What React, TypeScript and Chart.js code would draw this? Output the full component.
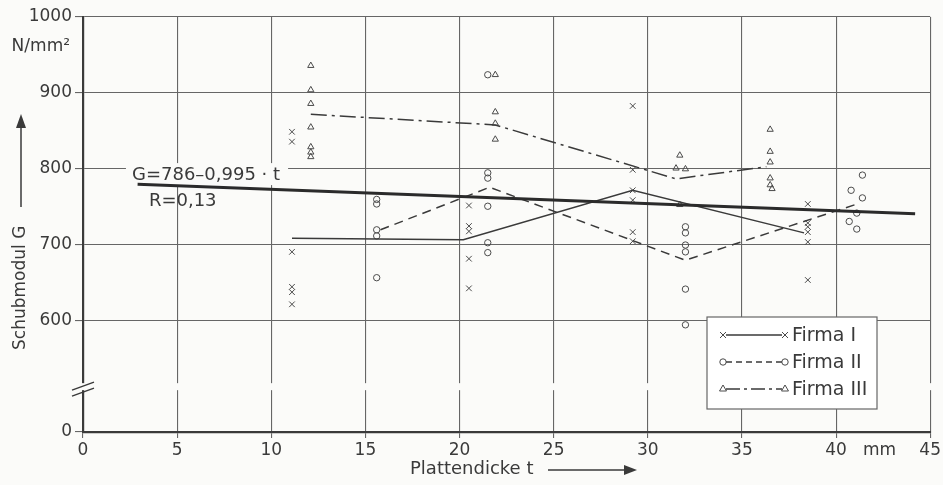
import React, { useEffect, useRef } from 'react';
import { Chart, registerables } from 'chart.js';

Chart.register(...registerables);

// ---- data ----
const xTickValues = [0, 5, 10, 15, 20, 25, 30, 35, 40, 45];
const yTickValues = [600, 700, 800, 900, 1000];
// broken y axis: the "0" tick is drawn at this position of the display scale
const ZERO_DRAWN_AT = 454;
const BREAK_AT = 513;

const firma1X = [11.1, 11.1, 11.1, 11.1, 11.1, 11.1, 20.5, 20.5, 20.5, 20.5, 20.5, 29.2, 29.2, 29.2, 29.2, 29.2, 29.2, 38.5, 38.5, 38.5, 38.5, 38.5, 38.5];
const firma1Y = [849, 836, 691, 645, 638, 622, 752, 725, 718, 682, 643, 883, 799, 772, 759, 717, 705, 754, 729, 724, 717, 704, 654];

const firma2X = [15.6, 15.6, 15.6, 15.6, 15.6, 21.5, 21.5, 21.5, 21.5, 21.5, 21.5, 32.0, 32.0, 32.0, 32.0, 32.0, 32.0, 41.4, 40.8, 41.4, 41.1, 40.7, 41.1];
const firma2Y = [760, 754, 720, 712, 657, 924, 795, 788, 751, 703, 690, 724, 716, 700, 691, 642, 595, 792, 772, 762, 742, 731, 721];

const firma3X = [12.1, 12.1, 12.1, 12.1, 12.1, 12.1, 12.1, 21.9, 21.9, 21.9, 21.9, 31.7, 31.5, 32.0, 31.7, 36.5, 36.5, 36.5, 36.5, 36.5, 36.6];
const firma3Y = [936, 904, 886, 855, 829, 822, 816, 924, 875, 860, 839, 818, 801, 800, 753, 852, 823, 809, 788, 779, 774];

const line1X = [11.1, 20.2, 29.2, 38.3];
const line1Y = [709, 707, 772, 716];
const line2X = [15.8, 21.6, 32.0, 41.0];
const line2Y = [720, 776, 680, 753];
const line3X = [12.1, 21.9, 31.5, 36.3];
const line3Y = [872, 858, 787, 803];
const regressionX = [2.9, 44.2];
const regressionY = [780, 741];

const seriesNames = ['Firma I', 'Firma II', 'Firma III'];
const equationText = 'G=786\u20130,995 \u00b7 t';
const rText = 'R=0,13';

const FONT = '"DejaVu Sans", sans-serif';
const INK = '#3a3a3a';
const MARK = '#4a4a4a';
const GRID = '#666666';
const PAPER = '#fbfbf9';

const pts = (xs: number[], ys: number[]) => xs.map((x, i) => ({ x, y: ys[i] }));

function drawMarker(ctx: CanvasRenderingContext2D, style: string, x: number, y: number, r: number) {
  ctx.save();
  ctx.setLineDash([]);
  ctx.strokeStyle = MARK;
  ctx.lineWidth = 1;
  ctx.beginPath();
  if (style === 'crossRot') {
    const d = r * 0.75;
    ctx.moveTo(x - d, y - d);
    ctx.lineTo(x + d, y + d);
    ctx.moveTo(x - d, y + d);
    ctx.lineTo(x + d, y - d);
  } else if (style === 'circle') {
    ctx.arc(x, y, r * 0.8, 0, Math.PI * 2);
  } else {
    ctx.moveTo(x, y - r);
    ctx.lineTo(x + r * 0.87, y + r * 0.5);
    ctx.lineTo(x - r * 0.87, y + r * 0.5);
    ctx.closePath();
  }
  ctx.stroke();
  ctx.restore();
}

export default function App() {
  const ref = useRef<HTMLCanvasElement | null>(null);

  useEffect(() => {
    if (!ref.current) return;

    const deco = {
      id: 'deco',
      beforeDatasetsDraw(chart: any) {
        const ctx = chart.ctx;
        const { left, right } = chart.chartArea;
        const ys = chart.scales.y;
        const xs = chart.scales.x;
        ctx.save();
        // axis break gap
        const by = ys.getPixelForValue(BREAK_AT);
        ctx.fillStyle = PAPER;
        ctx.fillRect(left - 12, by - 4, right - left + 14, 7);
        ctx.strokeStyle = INK;
        ctx.lineWidth = 1.4;
        ctx.beginPath();
        ctx.moveTo(left - 11, by + 3);
        ctx.lineTo(left + 11, by - 5);
        ctx.moveTo(left - 11, by + 9);
        ctx.lineTo(left + 11, by + 1);
        ctx.stroke();
        // equation text with paper background
        const ex = xs.getPixelForValue(2.6);
        const ey = ys.getPixelForValue(792);
        ctx.font = '18px ' + FONT;
        const w = ctx.measureText(equationText).width;
        ctx.fillStyle = PAPER;
        ctx.fillRect(ex - 6, ey - 12, w + 14, 22);
        ctx.fillStyle = INK;
        ctx.textAlign = 'left';
        ctx.textBaseline = 'middle';
        ctx.fillText(equationText, ex, ey);
        ctx.fillText(rText, xs.getPixelForValue(3.5), ys.getPixelForValue(757));
        ctx.restore();
      },
      afterDraw(chart: any) {
        const ctx = chart.ctx;
        const xs = chart.scales.x;
        ctx.save();
        ctx.fillStyle = INK;
        ctx.strokeStyle = INK;
        ctx.textBaseline = 'middle';
        // unit on y axis
        ctx.font = '17px ' + FONT;
        ctx.textAlign = 'right';
        ctx.fillText('N/mm\u00b2', 70, 47);
        // mm after 40
        ctx.textAlign = 'left';
        ctx.fillText('mm', xs.getPixelForValue(40) + 27, 451);
        // x title
        ctx.font = '18px ' + FONT;
        ctx.fillText('Plattendicke t', 410, 469);
        ctx.lineWidth = 1.5;
        ctx.beginPath();
        ctx.moveTo(548, 470);
        ctx.lineTo(628, 470);
        ctx.stroke();
        ctx.beginPath();
        ctx.moveTo(637, 470);
        ctx.lineTo(624, 465);
        ctx.lineTo(624, 475);
        ctx.closePath();
        ctx.fill();
        // y title
        ctx.save();
        ctx.translate(21, 350);
        ctx.rotate(-Math.PI / 2);
        ctx.font = '17px ' + FONT;
        ctx.textAlign = 'left';
        ctx.fillText('Schubmodul G', 0, 0);
        ctx.beginPath();
        ctx.moveTo(143, 0);
        ctx.lineTo(226, 0);
        ctx.stroke();
        ctx.beginPath();
        ctx.moveTo(236, 0);
        ctx.lineTo(222, -5);
        ctx.lineTo(222, 5);
        ctx.closePath();
        ctx.fill();
        ctx.restore();
        // legend
        const bx = 707, byy = 317, bw = 170, bh = 92;
        ctx.fillStyle = '#ffffff';
        ctx.fillRect(bx, byy, bw, bh);
        ctx.strokeStyle = GRID;
        ctx.lineWidth = 1.2;
        ctx.strokeRect(bx, byy, bw, bh);
        const rows = [335, 362, 389];
        const dashes = [[], [6, 4], [14, 4, 3, 4]];
        const styles = ['crossRot', 'circle', 'triangle'];
        rows.forEach((ry, i) => {
          ctx.strokeStyle = INK;
          ctx.lineWidth = 1.3;
          ctx.setLineDash(dashes[i]);
          ctx.beginPath();
          ctx.moveTo(726, ry);
          ctx.lineTo(782, ry);
          ctx.stroke();
          ctx.setLineDash([]);
          drawMarker(ctx, styles[i], 723, ry, 4);
          drawMarker(ctx, styles[i], 785, ry, 4);
          ctx.fillStyle = INK;
          ctx.font = '19px ' + FONT;
          ctx.textAlign = 'left';
          ctx.fillText(seriesNames[i], 792, ry + 1);
        });
        ctx.restore();
      },
    };

    const markerBase = {
      type: 'line' as const,
      showLine: false,
      pointRadius: 3.6,
      pointBorderWidth: 1,
      pointBorderColor: MARK,
      pointBackgroundColor: 'rgba(255,255,255,0)',
      borderColor: MARK,
    };
    const lineBase = {
      type: 'line' as const,
      pointRadius: 0,
      borderColor: INK,
      borderWidth: 1.5,
      fill: false,
      tension: 0,
    };

    const chart = new Chart(ref.current, {
      type: 'line',
      data: {
        datasets: [
          { ...lineBase, label: 'regression', data: pts(regressionX, regressionY), borderWidth: 3, borderColor: '#2b2b2b' },
          { ...lineBase, label: seriesNames[0] + ' line', data: pts(line1X, line1Y) },
          { ...lineBase, label: seriesNames[1] + ' line', data: pts(line2X, line2Y), borderDash: [9, 6] },
          { ...lineBase, label: seriesNames[2] + ' line', data: pts(line3X, line3Y), borderDash: [16, 5, 3, 5] },
          { ...markerBase, label: seriesNames[0], data: pts(firma1X, firma1Y), pointStyle: 'crossRot', pointRadius: 4 },
          { ...markerBase, label: seriesNames[1], data: pts(firma2X, firma2Y), pointStyle: 'circle', pointRadius: 3.2 },
          { ...markerBase, label: seriesNames[2], data: pts(firma3X, firma3Y), pointStyle: 'triangle' },
        ] as any,
      },
      options: {
        responsive: false,
        animation: false,
        layout: { padding: { top: 17, right: 11, left: 0, bottom: 0 } },
        plugins: { legend: { display: false }, tooltip: { enabled: false } },
        scales: {
          x: {
            type: 'linear',
            min: 0,
            max: 45,
            afterBuildTicks: (s: any) => { s.ticks = xTickValues.map((v) => ({ value: v })); },
            afterFit: (s: any) => { s.height = 53; },
            ticks: {
              color: INK,
              font: { family: FONT, size: 17 },
              padding: 2,
              maxRotation: 0,
              callback: (v: any) => String(v),
            },
            grid: { color: GRID, lineWidth: 1.1, tickLength: 6, drawTicks: true },
            border: { color: INK, width: 2.2 },
          },
          y: {
            type: 'linear',
            min: ZERO_DRAWN_AT,
            max: 1000,
            afterBuildTicks: (s: any) => { s.ticks = [ZERO_DRAWN_AT, ...yTickValues].map((v) => ({ value: v })); },
            afterFit: (s: any) => { s.width = 83; },
            ticks: {
              color: INK,
              font: { family: FONT, size: 17 },
              padding: 3,
              callback: (v: any) => (v === ZERO_DRAWN_AT ? '0' : String(v)),
            },
            grid: { color: GRID, lineWidth: 1.1, tickLength: 8, drawTicks: true },
            border: { color: INK, width: 2.2 },
          },
        },
      },
      plugins: [deco],
    } as any);

    return () => chart.destroy();
  }, []);

  return (
    <div style={{ position: 'absolute', left: 0, top: 0, width: 943, height: 485, background: PAPER }}>
      <canvas ref={ref} width={943} height={485} />
    </div>
  );
}
